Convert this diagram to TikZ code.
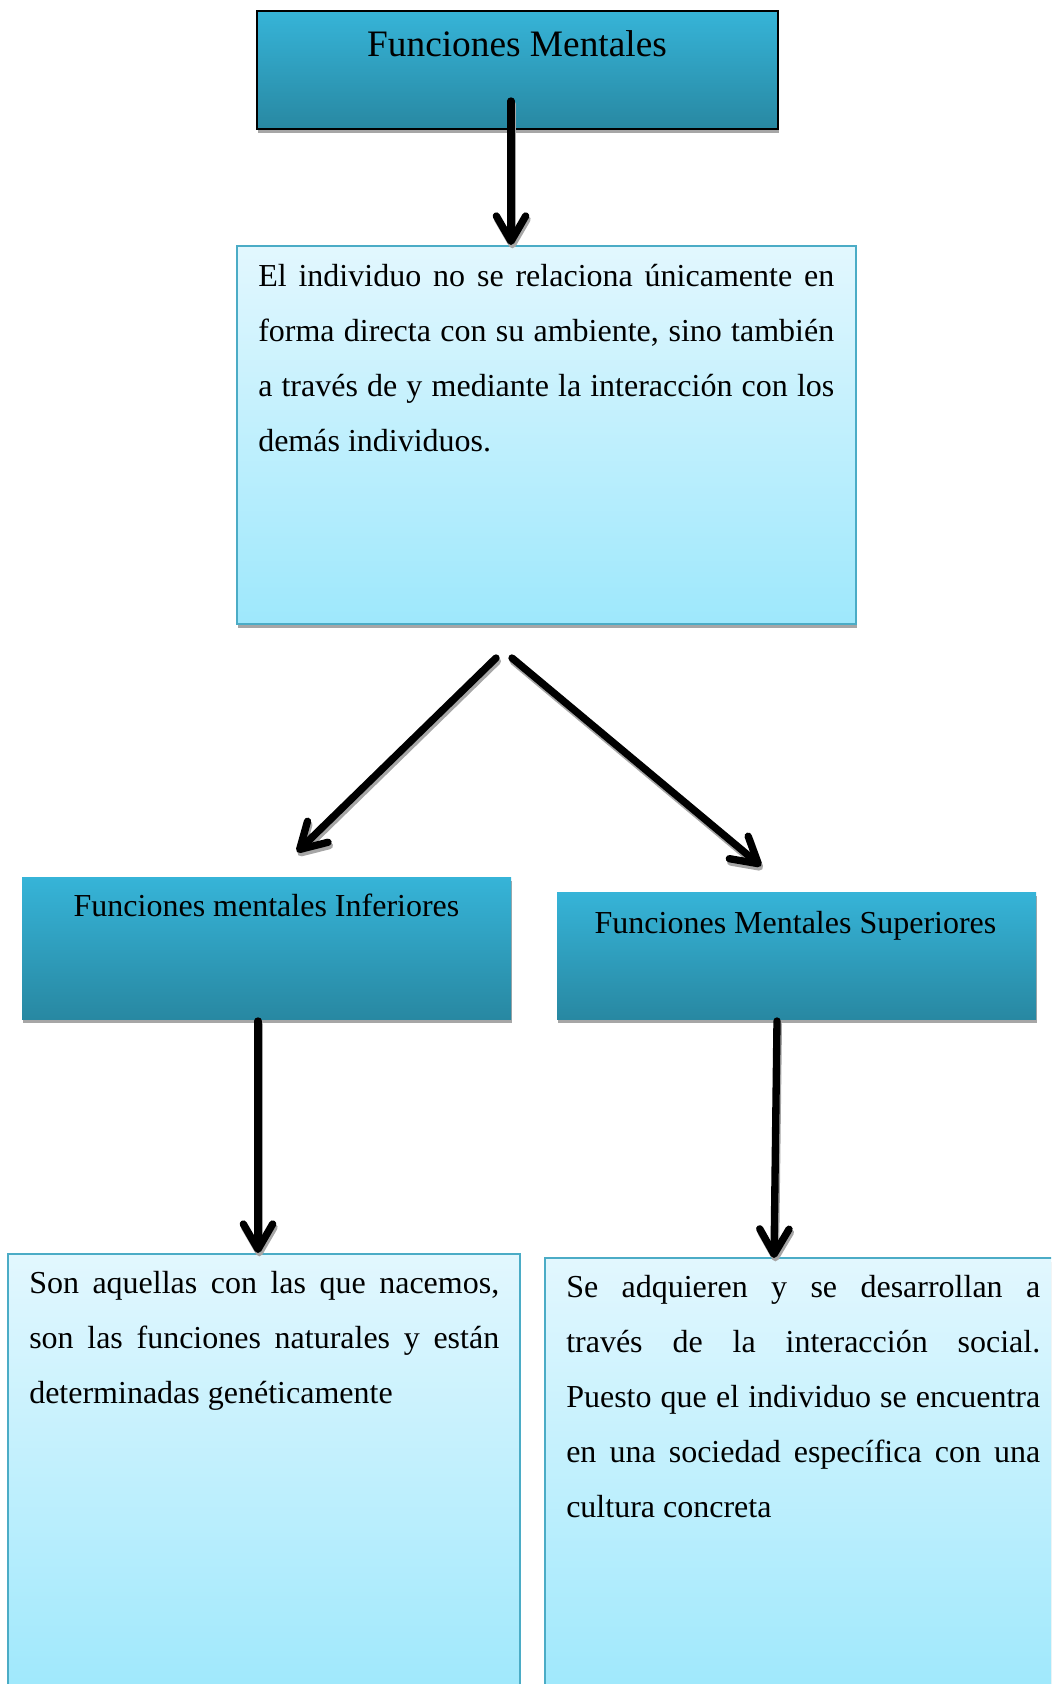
\documentclass[tikz,border=0pt]{standalone}
\usepackage{fontspec}
\setmainfont{Liberation Serif}
\usetikzlibrary{arrows.meta,shadows,fit}
\definecolor{dtop}{RGB}{54,180,216}
\definecolor{dbot}{RGB}{40,136,162}
\definecolor{ltop}{RGB}{226,247,254}
\definecolor{lbot}{RGB}{158,232,252}
\definecolor{lborder}{RGB}{75,172,198}
\tikzset{
  boxshadow/.style={drop shadow={shadow xshift=0.4pt,shadow yshift=-3pt,fill=black!35,opacity=1}},
  darkbox/.style={inner sep=0pt,top color=dtop,bottom color=dbot,boxshadow},
  lightbox/.style={inner sep=0pt,top color=ltop,bottom color=lbot,draw=lborder,line width=1.5pt,boxshadow},
  arr/.style={line width=5.5pt,line cap=round,line join=round,
    -{Straight Barb[length=19pt,width=22pt,line cap=round,line join=round]}},
  arrshadow/.style={arr,draw=black!35,transform canvas={shift={(1pt,-2.5pt)}}},
  body/.style={inner sep=0pt,anchor=base west,font=\fontsize{24}{41.25}\selectfont},
  ttl/.style={inner sep=0pt,anchor=base,font=\fontsize{24}{28}\selectfont},
}
\begin{document}
\begin{tikzpicture}[x=0.75pt,y=-0.75pt]
\clip (0,0) rectangle (1051,1684);
% boxes
\node[darkbox,draw=black,line width=1.2pt,fit={(257,11) (778,129)}] (top) {};
\node[lightbox,fit={(237,246) (856,624)}] (b2) {};
\node[darkbox,fit={(22,877) (511,1019)}] (inf) {};
\node[darkbox,fit={(557,892) (1036,1019)}] (sup) {};
\node[lightbox,fit={(8,1254) (520,1700)}] (bl) {};
\node[lightbox,fit={(545,1258) (1075,1700)}] (br) {};
% connector ends
\coordinate (a1s) at (511,101);
\coordinate (a2s) at (496,658);
\coordinate (a2e) at (297,852);
\coordinate (a3s) at (512,658);
\coordinate (a3e) at (761,866);
\coordinate (a4s) at (258,1021);
\coordinate (a5s) at (777,1021);
\coordinate (a5e) at (774,1258);
% arrow shadows
\draw[arrshadow] (a1s) -- (a1s |- b2.north);
\draw[arrshadow] (a2s) -- (a2e);
\draw[arrshadow] (a3s) -- (a3e);
\draw[arrshadow] (a4s) -- (a4s |- bl.north);
\draw[arrshadow] (a5s) -- (a5e);
% arrows
\draw[arr] (a1s) -- (a1s |- b2.north);
\draw[arr] (a2s) -- (a2e);
\draw[arr] (a3s) -- (a3e);
\draw[arr] (a4s) -- (a4s |- bl.north);
\draw[arr] (a5s) -- (a5e);
% texts
\node[ttl,font=\fontsize{28}{32}\selectfont] (t0) at (517,57) {Funciones Mentales};
\node[ttl] (t2) at (266.5,916) {Funciones mentales Inferiores};
\node[ttl] (t3) at (795.5,933) {Funciones Mentales Superiores};
\node[body] (t1) at (258,286) {\begin{minipage}[t]{432pt}
\makebox[\linewidth][s]{El individuo no se relaciona únicamente en}\par
\makebox[\linewidth][s]{forma directa con su ambiente, sino también}\par
\makebox[\linewidth][s]{a través de y mediante la interacción con los}\par
demás individuos.
\end{minipage}};
\node[body] (t4) at (29,1293) {\begin{minipage}[t]{352.5pt}
\makebox[\linewidth][s]{Son aquellas con las que nacemos,}\par
\makebox[\linewidth][s]{son las funciones naturales y están}\par
determinadas genéticamente
\end{minipage}};
\node[body] (t5) at (566,1297) {\begin{minipage}[t]{355.5pt}
\makebox[\linewidth][s]{Se adquieren y se desarrollan a}\par
\makebox[\linewidth][s]{través de la interacción social.}\par
\makebox[\linewidth][s]{Puesto que el individuo se encuentra}\par
\makebox[\linewidth][s]{en una sociedad específica con una}\par
cultura concreta
\end{minipage}};
\end{tikzpicture}
\end{document}
